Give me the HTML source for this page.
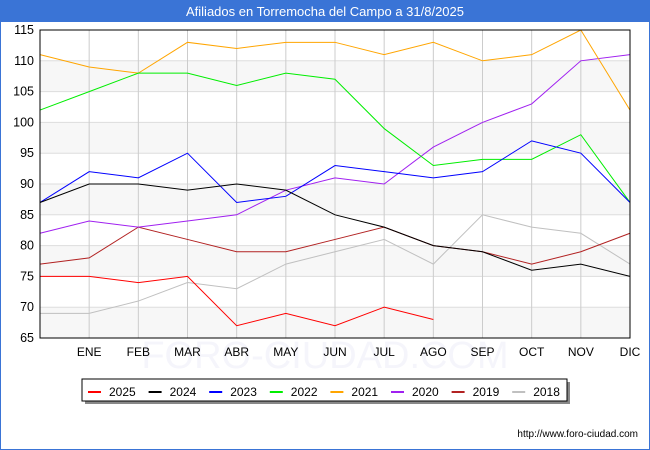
<!DOCTYPE html>
<html><head><meta charset="utf-8"><style>
body{margin:0;background:#fff}
svg{display:block;font-family:"Liberation Sans","DejaVu Sans",sans-serif}
</style></head><body>
<svg id="c" width="650" height="450">
<rect x="0.5" y="0.5" width="649" height="449" fill="#fff" stroke="#3a74d6"/>
<rect x="0" y="0" width="650" height="22" fill="#3a74d6"/>
<text x="325" y="16" text-anchor="middle" fill="#fff" font-size="13">Afiliados en Torremocha del Campo a 31/8/2025</text>
<text x="325" y="368" text-anchor="middle" fill="#f5f5fb" font-size="38">FORO-CIUDAD.COM</text>
<g id="plot"></g>
<text x="638" y="437" text-anchor="end" font-size="10" fill="#000">http://www.foro-ciudad.com</text>
</svg>
<script>
const months=["","ENE","FEB","MAR","ABR","MAY","JUN","JUL","AGO","SEP","OCT","NOV","DIC"];
const yTicks=[65,70,75,80,85,90,95,100,105,110,115];
const years=["2025","2024","2023","2022","2021","2020","2019","2018"];
const colors=["#ff0000","#000000","#0000ff","#00ee00","#ffa500","#a020f0","#b22222","#c0c0c0"];
const s2025=[75,75,74,75,67,69,67,70,68];
const s2024=[87,90,90,89,90,89,85,83,80,79,76,77,75];
const s2023=[87,92,91,95,87,88,93,92,91,92,97,95,87];
const s2022=[102,105,108,108,106,108,107,99,93,94,94,98,87];
const s2021=[111,109,108,113,112,113,113,111,113,110,111,115,102];
const s2020=[82,84,83,84,85,89,91,90,96,100,103,110,111];
const s2019=[77,78,83,81,79,79,81,83,80,79,77,79,82];
const s2018=[69,69,71,74,73,77,79,81,77,85,83,82,77];
const series=[s2025,s2024,s2023,s2022,s2021,s2020,s2019,s2018];
const X0=40,X1=630,Y0=338,Y1=30,ymin=65,ymax=115;
const xs=i=>X0+(X1-X0)*i/12;
const ys=v=>Y0-(v-ymin)/(ymax-ymin)*(Y0-Y1);
const NS="http://www.w3.org/2000/svg";
const g=document.getElementById('plot');
function mk(t,a,p){const e=document.createElementNS(NS,t);for(const k in a)e.setAttribute(k,a[k]);(p||g).appendChild(e);return e;}
[105,95,85,75,65].forEach(v=>{const r=mk('rect',{x:X0,y:ys(v+5),width:X1-X0,height:ys(v)-ys(v+5),fill:'#f7f7f7'});

});
yTicks.forEach(v=>{const l=mk('line',{x1:X0,x2:X1,y1:ys(v),y2:ys(v),stroke:'#ddd'});


const t=mk('text',{x:X0-6,y:ys(v)+4,'text-anchor':'end','font-size':'12.5',fill:'#000'});t.textContent=v;

});
months.forEach((m,i)=>{if(i>0){const l=mk('line',{x1:xs(i),x2:xs(i),y1:Y1,y2:Y0,stroke:'#ccc'});


const t=mk('text',{x:xs(i),y:356,'text-anchor':'middle','font-size':'12',fill:'#000'});t.textContent=m;

}});
for(let k=series.length-1;k>=0;k--){const d=series[k];
const p=mk('polyline',{points:d.map((v,i)=>xs(i)+','+ys(v)).join(' '),fill:'none',stroke:colors[k],'stroke-width':1});

}
const b=mk('rect',{x:X0,y:Y1,width:X1-X0,height:Y0-Y1,fill:'none',stroke:'#000'});


const lg=mk('g',{});


mk('rect',{x:85,y:382,width:485,height:22,fill:'#888'},lg);
mk('rect',{x:82,y:379,width:485,height:22,fill:'#fff',stroke:'#000'},lg);
years.forEach((y,k)=>{const x=88+k*60.6;
const l=mk('line',{x1:x,x2:x+13,y1:392,y2:392,stroke:colors[k],'stroke-width':2},lg);


const t=mk('text',{x:x+21,y:396,'font-size':'12',fill:'#000'},lg);t.textContent=y;

});
</script>
</body></html>
